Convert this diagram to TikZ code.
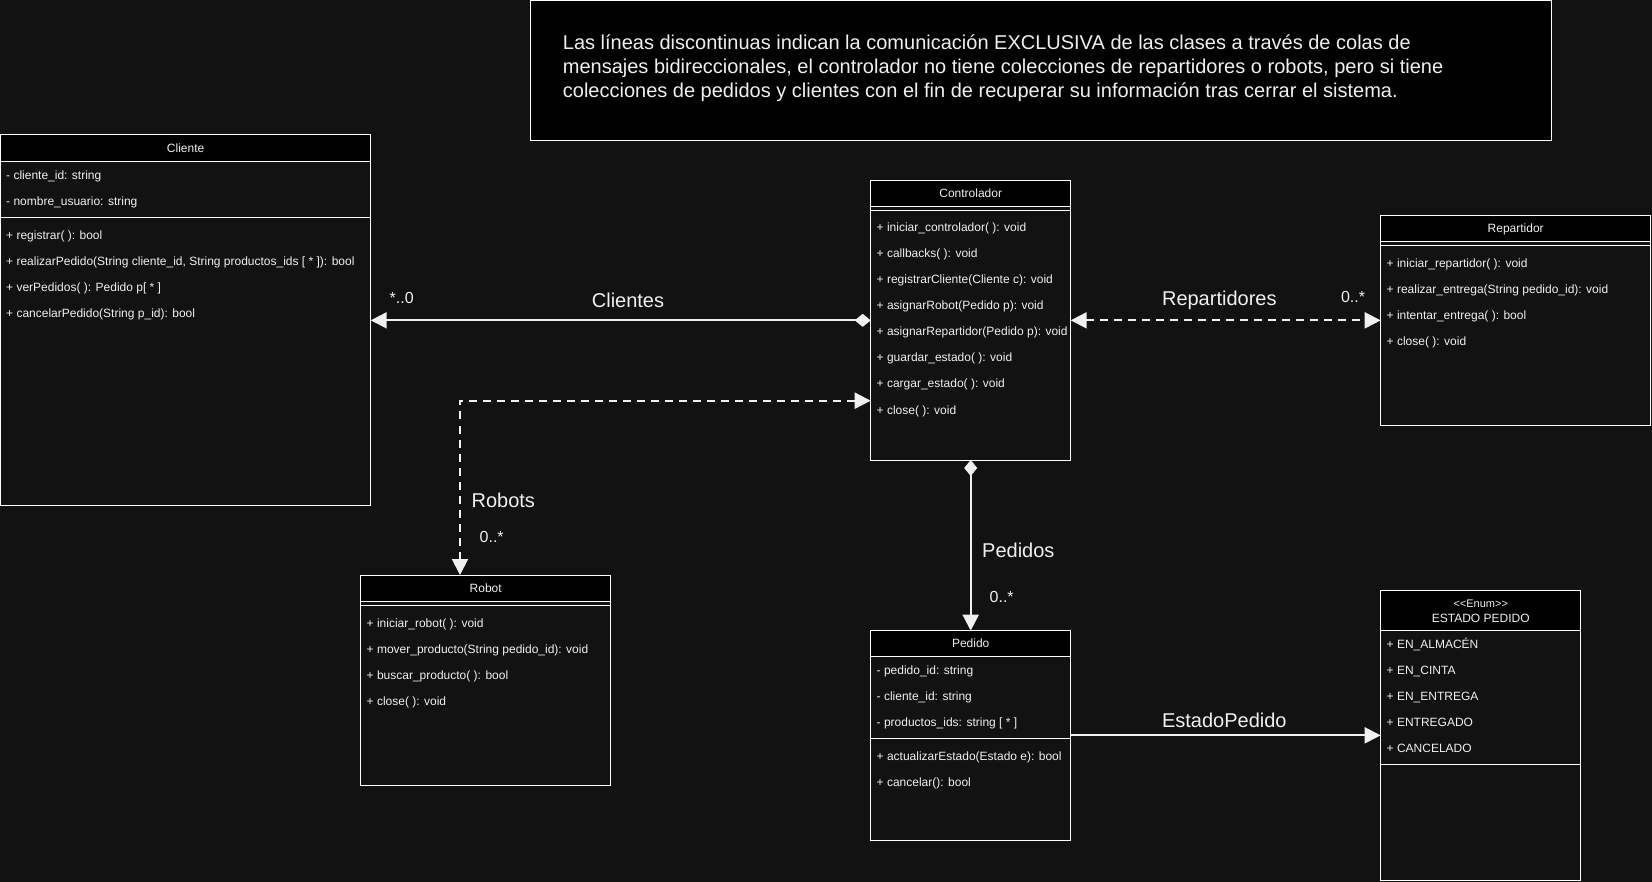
\documentclass[tikz,border=0pt]{standalone}
\usepackage{fontspec}
\setmainfont{Liberation Sans}
\usetikzlibrary{arrows.meta,calc}
\definecolor{bg}{HTML}{121212}
\definecolor{fg}{HTML}{F0F0F0}
\tikzset{
  utri/.tip={Triangle[length=16pt,width=16pt]},
  udia/.tip={Diamond[length=16pt,width=13pt]},
}
\begin{document}
\begin{tikzpicture}[x=1pt,y=-1pt,
  cls/.style={draw=white, line width=1pt, fill=bg, anchor=north west, inner sep=0pt, outer sep=0pt},
  hdr/.style={draw=white, line width=1pt, fill=black},
  sep/.style={draw=white, line width=1pt},
  row/.style={anchor=base west, inner sep=0pt, text=fg, font=\fontsize{12}{14}\selectfont, yshift=-4.3pt},
  ttl/.style={anchor=base, inner sep=0pt, text=fg, font=\fontsize{12}{14}\selectfont, yshift=-4.3pt},
  lbl/.style={inner sep=0pt, text=fg, font=\fontsize{20}{24}\selectfont},
  card/.style={inner sep=0pt, text=fg, font=\fontsize{16}{19}\selectfont},
  conn/.style={draw=fg, line width=2pt},
  dsh/.style={dash pattern=on 8pt off 6pt},
]
\useasboundingbox (0,0) rectangle (1652,882);
\fill[bg] (0,0) rectangle (1652,882);

% ---------- note ----------
\node[draw=white, fill=black, line width=1pt, anchor=north west, inner sep=0pt,
      minimum width=1021pt, minimum height=139.5pt] (note) at (530,0.5) {};
\node[anchor=west, align=left, inner sep=0pt, text=fg, font=\fontsize{20}{24}\selectfont] (notetext) at (562.7,68.7)
 {Las líneas discontinuas indican la comunicación EXCLUSIVA de las clases a través de colas de\\
  mensajes bidireccionales, el controlador no tiene colecciones de repartidores o robots, pero si tiene\\
  colecciones de pedidos y clientes con el fin de recuperar su información tras cerrar el sistema.};

% ---------- Cliente ----------
\node[cls, minimum width=370.2pt, minimum height=370.7pt] (cliente) at (0.5,135) {};
\draw[hdr] (0.5,135) rectangle (370.7,161.7);
\node[ttl] at (185.6,148.3) {Cliente};
\node[row] at (6,175) {- cliente\_id: string};
\node[row] at (6,201) {- nombre\_usuario: string};
\draw[sep] (0.5,217.3) -- (370.7,217.3);
\node[row] at (6,235) {+ registrar( ): bool};
\node[row] at (6,261) {+ realizarPedido(String cliente\_id, String productos\_ids [ * ]): bool};
\node[row] at (6,287) {+ verPedidos( ): Pedido p[ * ]};
\node[row] at (6,313) {+ cancelarPedido(String p\_id): bool};

% ---------- Controlador ----------
\node[cls, minimum width=200pt, minimum height=279.3pt] (ctrl) at (870.7,180.7) {};
\draw[hdr] (870.7,180.7) rectangle (1070.7,206.7);
\node[ttl] at (970.7,193.7) {Controlador};
\draw[sep] (870.7,210.2) -- (1070.7,210.2);
\node[row] at (876.5,227.7) {+ iniciar\_controlador( ): void};
\node[row] at (876.5,253.7) {+ callbacks( ): void};
\node[row] at (876.5,279.7) {+ registrarCliente(Cliente c): void};
\node[row] at (876.5,305.7) {+ asignarRobot(Pedido p): void};
\node[row] at (876.5,331.7) {+ asignarRepartidor(Pedido p): void};
\node[row] at (876.5,357.7) {+ guardar\_estado( ): void};
\node[row] at (876.5,383.7) {+ cargar\_estado( ): void};
\node[row] at (876.5,409.7) {+ close( ): void};

% ---------- Repartidor ----------
\node[cls, minimum width=270pt, minimum height=210pt] (rep) at (1380.7,215.7) {};
\draw[hdr] (1380.7,215.7) rectangle (1650.7,241.7);
\node[ttl] at (1515.7,228.7) {Repartidor};
\draw[sep] (1380.7,245.2) -- (1650.7,245.2);
\node[row] at (1386.5,263.3) {+ iniciar\_repartidor( ): void};
\node[row] at (1386.5,289.3) {+ realizar\_entrega(String pedido\_id): void};
\node[row] at (1386.5,315.3) {+ intentar\_entrega( ): bool};
\node[row] at (1386.5,341.3) {+ close( ): void};

% ---------- Robot ----------
\node[cls, minimum width=250pt, minimum height=210pt] (robot) at (360.7,575) {};
\draw[hdr] (360.7,575) rectangle (610.7,601.7);
\node[ttl] at (485.7,588.3) {Robot};
\draw[sep] (360.7,605) -- (610.7,605);
\node[row] at (366.5,622.7) {+ iniciar\_robot( ): void};
\node[row] at (366.5,648.7) {+ mover\_producto(String pedido\_id): void};
\node[row] at (366.5,674.7) {+ buscar\_producto( ): bool};
\node[row] at (366.5,700.7) {+ close( ): void};

% ---------- Pedido ----------
\node[cls, minimum width=200pt, minimum height=209.3pt] (pedido) at (870.7,630.7) {};
\draw[hdr] (870.7,630.7) rectangle (1070.7,656);
\node[ttl] at (970.7,643.3) {Pedido};
\node[row] at (876.5,670) {- pedido\_id: string};
\node[row] at (876.5,696) {- cliente\_id: string};
\node[row] at (876.5,722) {- productos\_ids: string [ * ]};
\draw[sep] (870.7,738.3) -- (1070.7,738.3);
\node[row] at (876.5,756) {+ actualizarEstado(Estado e): bool};
\node[row] at (876.5,782) {+ cancelar(): bool};

% ---------- Enum ----------
\node[cls, minimum width=200pt, minimum height=290pt] (enum) at (1380.7,590.7) {};
\draw[hdr] (1380.7,590.7) rectangle (1580.7,630);
\node[ttl, font=\fontsize{11}{13}\selectfont, yshift=0.3pt] at (1480.7,603.3) {<{}<Enum>{}>};
\node[ttl] at (1480.7,617.7) {ESTADO PEDIDO};
\node[row] at (1386.5,644) {+ EN\_ALMACÉN};
\node[row] at (1386.5,670) {+ EN\_CINTA};
\node[row] at (1386.5,696) {+ EN\_ENTREGA};
\node[row] at (1386.5,722) {+ ENTREGADO};
\node[row] at (1386.5,748) {+ CANCELADO};
\draw[sep] (1380.7,764.3) -- (1580.7,764.3);

% ---------- connectors ----------
\draw[conn, udia-utri] (ctrl.west) -- (cliente.east);
\draw[conn, dsh, utri-utri] (ctrl.east) -- (ctrl.east -| rep.west);
\draw[conn, udia-utri] (ctrl.south) -- (pedido.north);
\draw[conn, -utri] (pedido.east) -- (pedido.east -| enum.west);
\coordinate (rA) at ($(ctrl.north west)+(0,220)$);
\coordinate (rB) at ($(robot.north west)+(99.3,0)$);
\draw[conn, dsh, utri-utri] (rB) |- (rA);

% ---------- labels ----------
\node[lbl] (lclientes) at (628,300) {Clientes};
\node[card] (cclientes) at (401.7,298.3) {*..0};
\node[lbl] (lrep) at (1219.3,300) {Repartidores};
\node[card] (crep) at (1353,296.7) {0..*};
\node[lbl] (lrobots) at (503.3,500) {Robots};
\node[card] (crobots) at (491.7,536.7) {0..*};
\node[lbl] (lpedidos) at (1018.3,550) {Pedidos};
\node[card] (cpedidos) at (1001.7,596.7) {0..*};
\node[lbl] (lestado) at (1224.3,720.7) {EstadoPedido};
\end{tikzpicture}
\end{document}
